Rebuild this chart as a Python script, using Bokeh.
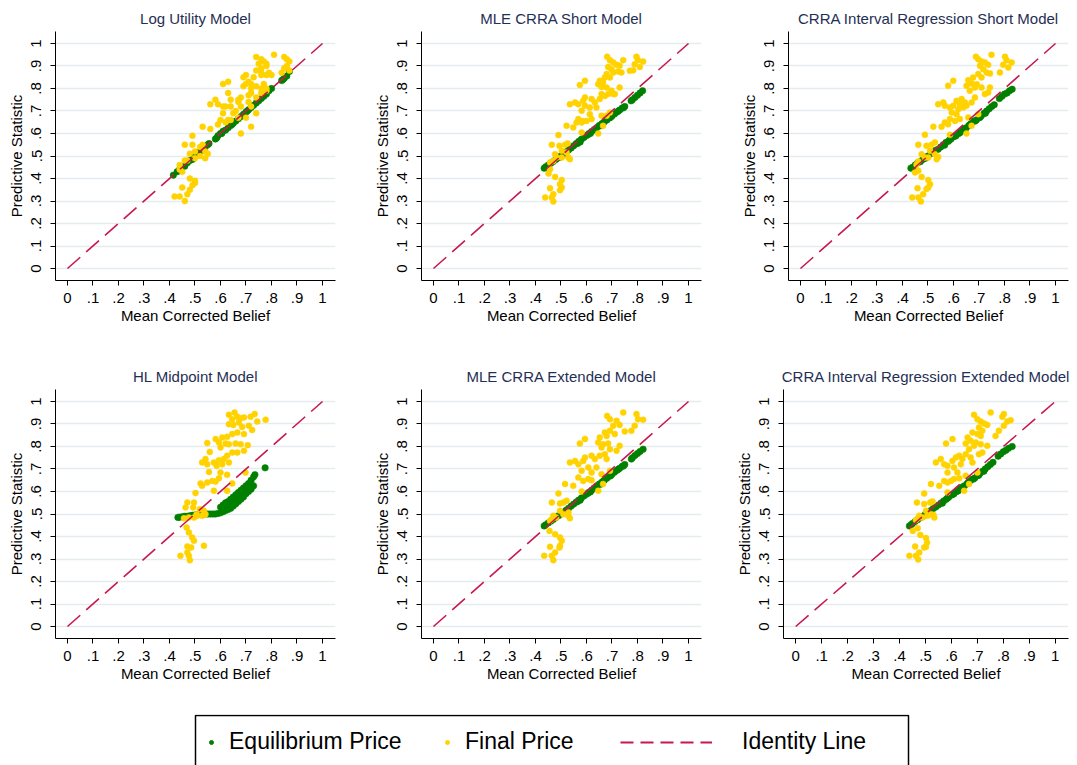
from bokeh.plotting import figure
from bokeh.layouts import column, row
from bokeh.models import Range1d, FixedTicker, Legend, LegendItem, BoxAnnotation
from bokeh.embed import file_html
from bokeh.resources import INLINE

# ---------------- data ----------------
TICKS = [0, 0.1, 0.2, 0.3, 0.4, 0.5, 0.6, 0.7, 0.8, 0.9, 1]
TICK_LABELS = ["0", ".1", ".2", ".3", ".4", ".5", ".6", ".7", ".8", ".9", "1"]
IDENTITY_X = [0, 1]
IDENTITY_Y = [0, 1]
X_LABEL = "Mean Corrected Belief"
Y_LABEL = "Predictive Statistic"
SERIES = ["Equilibrium Price", "Final Price", "Identity Line"]
TITLES = ["Log Utility Model", "MLE CRRA Short Model", "CRRA Interval Regression Short Model",
          "HL Midpoint Model", "MLE CRRA Extended Model", "CRRA Interval Regression Extended Model"]

# Log Utility Model
LOG_EQ = [(0.415,0.415),(0.43,0.43),(0.44,0.44),(0.45,0.45),(0.46,0.455),(0.47,0.47),(0.48,0.48),(0.49,0.485),
          (0.50,0.50),(0.505,0.505),(0.51,0.51),(0.52,0.52),(0.53,0.53),(0.54,0.54),(0.55,0.55),(0.555,0.555),
          (0.58,0.575),(0.585,0.58),(0.59,0.59),(0.60,0.60),(0.605,0.60),(0.61,0.61),(0.62,0.615),(0.63,0.625),
          (0.64,0.635),(0.645,0.64),(0.65,0.645),(0.66,0.655),(0.67,0.665),(0.68,0.675),(0.69,0.685),(0.70,0.695),
          (0.705,0.70),(0.71,0.705),(0.72,0.715),(0.73,0.725),(0.74,0.735),(0.75,0.745),(0.76,0.755),(0.77,0.765),
          (0.78,0.775),(0.79,0.79),(0.80,0.80),(0.84,0.835),(0.845,0.84),(0.85,0.845),(0.86,0.855),(0.87,0.875)]
LOG_FINAL = [(0.74,0.94),(0.76,0.93),(0.77,0.92),(0.75,0.91),(0.78,0.91),(0.78,0.90),(0.76,0.89),(0.74,0.88),
             (0.76,0.87),(0.79,0.87),(0.78,0.86),(0.73,0.85),(0.76,0.86),(0.80,0.86),(0.81,0.95),(0.85,0.94),
             (0.86,0.93),(0.87,0.92),(0.86,0.90),(0.85,0.89),(0.84,0.87),(0.87,0.88),(0.70,0.86),(0.70,0.82),
             (0.71,0.83),(0.72,0.82),(0.74,0.81),(0.76,0.80),(0.77,0.82),(0.78,0.80),(0.69,0.81),(0.72,0.80),
             (0.69,0.85),(0.61,0.82),(0.63,0.83),(0.63,0.78),(0.64,0.75),(0.67,0.75),(0.68,0.76),(0.71,0.77),
             (0.72,0.78),(0.74,0.76),(0.76,0.78),(0.78,0.79),(0.56,0.73),(0.58,0.75),(0.59,0.73),(0.61,0.72),
             (0.62,0.72),(0.64,0.72),(0.67,0.74),(0.68,0.72),(0.66,0.70),(0.65,0.69),(0.61,0.69),(0.60,0.66),
             (0.62,0.65),(0.63,0.66),(0.64,0.66),(0.67,0.67),(0.70,0.67),(0.71,0.74),(0.72,0.72),(0.74,0.69),
             (0.53,0.63),(0.56,0.62),(0.59,0.64),(0.68,0.60),(0.72,0.63),(0.49,0.59),(0.46,0.55),(0.49,0.55),
             (0.52,0.54),(0.53,0.55),(0.50,0.52),(0.54,0.52),(0.55,0.51),(0.52,0.50),(0.54,0.49),(0.48,0.51),
             (0.50,0.49),(0.46,0.48),(0.47,0.48),(0.44,0.46),(0.44,0.44),(0.45,0.43),(0.48,0.40),(0.50,0.39),
             (0.49,0.37),(0.50,0.38),(0.48,0.35),(0.47,0.33),(0.45,0.36),(0.42,0.32),(0.44,0.32),(0.46,0.30)]

# MLE CRRA Short Model
MLE_S_EQ = [(0.434,0.446),(0.44,0.452),(0.45,0.46),(0.46,0.468),(0.47,0.476),(0.48,0.485),(0.49,0.492),
            (0.50,0.50),(0.51,0.509),(0.52,0.518),(0.53,0.527),(0.54,0.536),(0.55,0.546),(0.56,0.555),
            (0.565,0.556),(0.57,0.565),(0.575,0.562),(0.58,0.574),(0.59,0.582),(0.60,0.591),(0.605,0.594),
            (0.61,0.60),(0.615,0.60),(0.62,0.609),(0.63,0.617),(0.635,0.62),(0.64,0.626),(0.65,0.635),
            (0.655,0.634),(0.66,0.643),(0.665,0.646),(0.67,0.652),(0.68,0.66),(0.69,0.669),(0.695,0.672),
            (0.70,0.678),(0.71,0.687),(0.72,0.695),(0.725,0.70),(0.73,0.704),(0.74,0.713),(0.745,0.714),
            (0.75,0.72),(0.775,0.745),(0.78,0.75),(0.79,0.76),(0.80,0.77),(0.81,0.78),(0.82,0.79)]
MLE_S_FINAL = [(0.681,0.941),(0.692,0.926),(0.705,0.916),(0.718,0.905),(0.73,0.901),(0.685,0.896),(0.698,0.886),
               (0.679,0.864),(0.705,0.871),(0.724,0.876),(0.737,0.871),(0.744,0.926),(0.672,0.849),(0.692,0.849),
               (0.652,0.834),(0.665,0.827),(0.646,0.819),(0.659,0.807),(0.679,0.804),(0.698,0.79),(0.711,0.775),
               (0.73,0.804),(0.783,0.881),(0.789,0.908),(0.796,0.941),(0.802,0.926),(0.822,0.92),(0.809,0.896),
               (0.77,0.879),(0.574,0.815),(0.594,0.834),(0.535,0.73),(0.555,0.738),(0.568,0.73),(0.587,0.745),
               (0.594,0.723),(0.613,0.716),(0.633,0.738),(0.652,0.753),(0.672,0.767),(0.685,0.775),(0.705,0.775),
               (0.594,0.76),(0.62,0.753),(0.659,0.775),(0.639,0.716),(0.581,0.701),(0.613,0.686),(0.587,0.656),
               (0.60,0.656),(0.62,0.664),(0.568,0.664),(0.561,0.649),(0.548,0.627),(0.522,0.634),(0.581,0.649),
               (0.659,0.679),(0.679,0.679),(0.692,0.693),(0.665,0.634),(0.581,0.604),(0.49,0.593),(0.646,0.60),
               (0.464,0.55),(0.494,0.545),(0.516,0.55),(0.526,0.556),(0.503,0.523),(0.522,0.516),(0.477,0.508),
               (0.483,0.493),(0.529,0.493),(0.535,0.486),(0.503,0.493),(0.457,0.471),(0.47,0.478),(0.457,0.441),
               (0.451,0.422),(0.477,0.407),(0.503,0.393),(0.496,0.375),(0.503,0.36),(0.457,0.357),(0.496,0.348),
               (0.47,0.33),(0.438,0.316),(0.464,0.316),(0.47,0.298)]

# CRRA Interval Regression Short Model
IR_S_EQ = [(0.433,0.446),(0.44,0.45),(0.45,0.46),(0.46,0.47),(0.47,0.475),(0.48,0.485),(0.49,0.49),
           (0.50,0.50),(0.51,0.51),(0.52,0.515),(0.53,0.525),(0.54,0.53),(0.55,0.54),(0.56,0.55),(0.565,0.548),
           (0.57,0.56),(0.58,0.565),(0.585,0.572),(0.59,0.575),(0.60,0.585),(0.605,0.588),(0.61,0.59),
           (0.62,0.60),(0.625,0.603),(0.63,0.61),(0.64,0.62),(0.645,0.618),(0.65,0.625),(0.66,0.635),
           (0.665,0.64),(0.67,0.645),(0.68,0.655),(0.685,0.655),(0.69,0.66),(0.70,0.67),(0.705,0.672),
           (0.71,0.68),(0.72,0.69),(0.725,0.69),(0.73,0.70),(0.74,0.71),(0.75,0.72),(0.76,0.728),
           (0.78,0.755),(0.79,0.765),(0.80,0.775),(0.81,0.78),(0.82,0.79),(0.83,0.797)]
IR_S_FINAL = [(0.688,0.941),(0.697,0.93),(0.71,0.92),(0.723,0.916),(0.736,0.905),(0.704,0.901),(0.717,0.886),
              (0.73,0.871),(0.743,0.867),(0.697,0.864),(0.677,0.849),(0.71,0.849),(0.658,0.837),(0.671,0.822),
              (0.691,0.819),(0.651,0.812),(0.684,0.804),(0.71,0.804),(0.664,0.79),(0.723,0.775),(0.736,0.782),
              (0.749,0.95),(0.802,0.941),(0.808,0.926),(0.828,0.916),(0.795,0.905),(0.815,0.893),(0.782,0.871),
              (0.743,0.804),(0.599,0.834),(0.579,0.812),(0.54,0.73),(0.56,0.738),(0.566,0.723),(0.586,0.716),
              (0.599,0.723),(0.612,0.745),(0.632,0.753),(0.625,0.73),(0.645,0.738),(0.651,0.723),(0.671,0.738),
              (0.684,0.76),(0.638,0.716),(0.619,0.708),(0.593,0.693),(0.612,0.686),(0.586,0.664),(0.566,0.649),
              (0.606,0.656),(0.625,0.664),(0.553,0.63),(0.521,0.63),(0.579,0.641),(0.658,0.671),(0.671,0.634),
              (0.697,0.686),(0.651,0.60),(0.586,0.594),(0.488,0.594),(0.462,0.55),(0.494,0.545),(0.514,0.55),
              (0.527,0.56),(0.508,0.523),(0.527,0.508),(0.475,0.508),(0.488,0.493),(0.534,0.486),(0.54,0.496),
              (0.501,0.493),(0.455,0.461),(0.462,0.476),(0.449,0.427),(0.462,0.434),(0.475,0.407),(0.501,0.393),
              (0.508,0.375),(0.501,0.36),(0.459,0.357),(0.494,0.353),(0.481,0.33),(0.438,0.316),(0.462,0.316),
              (0.472,0.298)]

# HL Midpoint Model
HL_EQ = [(0.433,0.485),(0.44,0.486),(0.45,0.488),(0.46,0.49),(0.47,0.49),(0.48,0.492),(0.49,0.494),
         (0.50,0.496),(0.51,0.498),(0.52,0.50),(0.53,0.50),(0.54,0.50),(0.55,0.50),(0.56,0.50),(0.57,0.50),
         (0.58,0.50),(0.59,0.502),(0.60,0.505),(0.60,0.53),(0.61,0.51),(0.61,0.54),(0.62,0.515),(0.62,0.53),
         (0.62,0.55),(0.63,0.52),(0.63,0.555),(0.64,0.525),(0.64,0.545),(0.64,0.565),(0.65,0.535),(0.65,0.575),
         (0.66,0.545),(0.66,0.565),(0.66,0.585),(0.67,0.555),(0.67,0.595),(0.68,0.565),(0.68,0.585),(0.68,0.605),
         (0.69,0.575),(0.69,0.615),(0.70,0.59),(0.70,0.607),(0.70,0.625),(0.71,0.60),(0.71,0.635),(0.72,0.61),
         (0.72,0.63),(0.72,0.65),(0.73,0.625),(0.73,0.665),(0.735,0.675),(0.775,0.705)]
HL_FINAL = [(0.655,0.951),(0.633,0.941),(0.666,0.932),(0.646,0.921),(0.679,0.926),(0.692,0.929),(0.718,0.932),
            (0.734,0.944),(0.744,0.911),(0.777,0.919),(0.633,0.899),(0.65,0.896),(0.672,0.907),(0.685,0.887),
            (0.711,0.892),(0.724,0.873),(0.692,0.855),(0.666,0.862),(0.646,0.855),(0.626,0.843),(0.607,0.84),
            (0.581,0.833),(0.594,0.818),(0.548,0.815),(0.62,0.813),(0.633,0.81),(0.659,0.813),(0.679,0.81),
            (0.707,0.806),(0.60,0.796),(0.558,0.776),(0.646,0.773),(0.666,0.773),(0.692,0.781),(0.626,0.759),
            (0.613,0.744),(0.594,0.739),(0.574,0.729),(0.541,0.744),(0.528,0.729),(0.548,0.721),(0.633,0.729),
            (0.607,0.721),(0.585,0.714),(0.555,0.687),(0.60,0.684),(0.626,0.674),(0.568,0.647),(0.594,0.659),
            (0.646,0.636),(0.522,0.636),(0.548,0.64),(0.528,0.625),(0.581,0.644),(0.698,0.684),(0.574,0.603),
            (0.626,0.603),(0.502,0.593),(0.47,0.551),(0.496,0.551),(0.463,0.529),(0.493,0.529),(0.519,0.521),
            (0.535,0.514),(0.506,0.499),(0.528,0.492),(0.541,0.499),(0.457,0.481),(0.476,0.484),(0.509,0.492),
            (0.496,0.484),(0.467,0.44),(0.476,0.418),(0.489,0.396),(0.496,0.381),(0.485,0.351),(0.47,0.356),
            (0.535,0.359),(0.47,0.329),(0.443,0.314),(0.476,0.314),(0.48,0.295)]

# MLE CRRA Extended Model
MLE_E_EQ = [(0.434,0.447),(0.44,0.452),(0.45,0.46),(0.46,0.468),(0.47,0.476),(0.48,0.484),(0.49,0.492),
            (0.50,0.50),(0.51,0.508),(0.52,0.517),(0.53,0.526),(0.54,0.535),(0.55,0.544),(0.56,0.553),
            (0.565,0.555),(0.57,0.562),(0.575,0.561),(0.58,0.571),(0.59,0.58),(0.60,0.588),(0.605,0.592),
            (0.61,0.597),(0.615,0.598),(0.62,0.606),(0.63,0.615),(0.635,0.618),(0.64,0.624),(0.65,0.633),
            (0.655,0.632),(0.66,0.641),(0.665,0.645),(0.67,0.65),(0.68,0.659),(0.69,0.668),(0.695,0.67),
            (0.70,0.677),(0.71,0.686),(0.72,0.694),(0.725,0.699),(0.73,0.703),(0.74,0.712),(0.745,0.713),
            (0.75,0.72),(0.776,0.744),(0.78,0.75),(0.79,0.76),(0.80,0.769),(0.81,0.778),(0.822,0.788)]
MLE_E_FINAL = [(0.681,0.936),(0.744,0.951),(0.692,0.921),(0.718,0.914),(0.705,0.892),(0.73,0.896),(0.692,0.87),
               (0.711,0.855),(0.75,0.867),(0.672,0.862),(0.652,0.84),(0.679,0.847),(0.646,0.818),(0.665,0.81),
               (0.685,0.813),(0.659,0.796),(0.692,0.788),(0.718,0.781),(0.73,0.803),(0.796,0.944),(0.789,0.892),
               (0.802,0.921),(0.822,0.919),(0.776,0.87),(0.594,0.833),(0.574,0.813),(0.535,0.729),(0.555,0.736),
               (0.568,0.721),(0.587,0.736),(0.594,0.751),(0.62,0.759),(0.633,0.744),(0.652,0.759),(0.672,0.766),
               (0.679,0.744),(0.607,0.707),(0.581,0.692),(0.62,0.684),(0.639,0.707),(0.568,0.662),(0.587,0.647),
               (0.607,0.655),(0.62,0.65),(0.548,0.625),(0.516,0.633),(0.659,0.677),(0.692,0.692),(0.665,0.633),
               (0.646,0.603),(0.581,0.60),(0.49,0.591),(0.464,0.551),(0.496,0.547),(0.509,0.551),(0.522,0.559),
               (0.496,0.514),(0.529,0.507),(0.47,0.492),(0.481,0.484),(0.529,0.492),(0.535,0.481),(0.509,0.499),
               (0.457,0.47),(0.464,0.477),(0.455,0.425),(0.477,0.41),(0.496,0.396),(0.503,0.381),(0.496,0.359),
               (0.457,0.354),(0.494,0.351),(0.477,0.329),(0.434,0.314),(0.464,0.314),(0.47,0.295)]

# CRRA Interval Regression Extended Model
IR_E_EQ = [(0.438,0.447),(0.445,0.452),(0.45,0.458),(0.46,0.467),(0.47,0.475),(0.48,0.484),(0.49,0.49),
           (0.50,0.50),(0.51,0.508),(0.52,0.515),(0.53,0.524),(0.54,0.531),(0.55,0.54),(0.56,0.549),
           (0.565,0.548),(0.57,0.558),(0.58,0.565),(0.585,0.571),(0.59,0.575),(0.60,0.584),(0.605,0.587),
           (0.61,0.59),(0.62,0.60),(0.625,0.602),(0.63,0.61),(0.64,0.619),(0.645,0.618),(0.65,0.625),
           (0.66,0.634),(0.665,0.64),(0.67,0.645),(0.68,0.654),(0.685,0.655),(0.69,0.66),(0.70,0.67),
           (0.705,0.672),(0.71,0.68),(0.72,0.69),(0.725,0.69),(0.73,0.70),(0.74,0.71),(0.75,0.72),(0.76,0.73),
           (0.78,0.757),(0.79,0.767),(0.80,0.777),(0.81,0.783),(0.82,0.792),(0.834,0.80)]
IR_E_FINAL = [(0.687,0.941),(0.751,0.951),(0.70,0.921),(0.713,0.911),(0.726,0.902),(0.738,0.896),(0.706,0.884),
              (0.719,0.87),(0.681,0.862),(0.70,0.855),(0.713,0.847),(0.662,0.84),(0.674,0.825),(0.694,0.818),
              (0.655,0.813),(0.687,0.803),(0.713,0.81),(0.738,0.803),(0.668,0.788),(0.719,0.773),(0.706,0.766),
              (0.802,0.944),(0.796,0.932),(0.815,0.911),(0.828,0.917),(0.802,0.892),(0.783,0.87),(0.77,0.847),
              (0.604,0.833),(0.579,0.813),(0.54,0.729),(0.559,0.744),(0.572,0.721),(0.585,0.714),(0.604,0.736),
              (0.617,0.751),(0.63,0.759),(0.642,0.744),(0.655,0.766),(0.674,0.751),(0.681,0.729),(0.636,0.721),
              (0.61,0.707),(0.585,0.684),(0.623,0.684),(0.598,0.647),(0.572,0.647),(0.61,0.655),(0.63,0.659),
              (0.553,0.625),(0.521,0.633),(0.585,0.64),(0.655,0.67),(0.70,0.684),(0.668,0.633),(0.649,0.603),
              (0.585,0.596),(0.495,0.591),(0.467,0.551),(0.495,0.544),(0.518,0.551),(0.527,0.556),(0.502,0.514),
              (0.521,0.499),(0.476,0.492),(0.489,0.484),(0.534,0.484),(0.531,0.496),(0.508,0.492),(0.463,0.473),
              (0.472,0.481),(0.451,0.425),(0.47,0.437),(0.48,0.407),(0.502,0.393),(0.506,0.373),(0.495,0.351),
              (0.46,0.356),(0.502,0.354),(0.476,0.329),(0.438,0.314),(0.463,0.314),(0.472,0.298)]

PANELS = [(TITLES[0], LOG_EQ, LOG_FINAL), (TITLES[1], MLE_S_EQ, MLE_S_FINAL), (TITLES[2], IR_S_EQ, IR_S_FINAL),
          (TITLES[3], HL_EQ, HL_FINAL), (TITLES[4], MLE_E_EQ, MLE_E_FINAL), (TITLES[5], IR_E_EQ, IR_E_FINAL)]

# ---------------- style ----------------
FONT = "Liberation Sans"
GREEN = "#008000"
GOLD = "#ffd200"
RED = "#c8194f"
TITLE_COLOR = "#1f2f55"
GRID_COLOR = "#e4ecef"
DASH = "17 8"
FRAME_TOP = 31
FRAME_H = 249


def make_panel(title, eq, fin, width, height, left, frame_w):
    p = figure(width=width, height=height,
               x_range=Range1d(-0.047, 1.051), y_range=Range1d(-0.0533, 1.0533),
               output_backend="svg", toolbar_location=None,
               min_border_left=left, min_border_right=width - left - frame_w,
               min_border_top=FRAME_TOP, min_border_bottom=height - FRAME_TOP - FRAME_H)
    p.outline_line_color = None
    p.background_fill_color = "white"
    p.border_fill_color = "white"
    p.title.text = title
    p.title.align = "center"
    p.title.text_font = FONT
    p.title.text_font_size = "15px"
    p.title.text_font_style = "normal"
    p.title.text_color = TITLE_COLOR
    p.title.standoff = 9

    for ax in (p.xaxis[0], p.yaxis[0]):
        ax.ticker = FixedTicker(ticks=TICKS)
        ax.major_label_overrides = dict(zip(TICKS, TICK_LABELS))
        ax.axis_line_color = "black"
        ax.axis_line_width = 1
        ax.major_tick_line_color = "black"
        ax.major_tick_out = 5
        ax.major_tick_in = 0
        ax.minor_tick_line_color = None
        ax.major_label_text_font = FONT
        ax.major_label_text_font_size = "15px"
        ax.major_label_text_color = "black"
        ax.axis_label_text_font = FONT
        ax.axis_label_text_font_size = "15px"
        ax.axis_label_text_font_style = "normal"
        ax.axis_label_text_color = "black"
    p.xaxis.axis_label = X_LABEL
    p.yaxis.axis_label = Y_LABEL
    p.xaxis.major_label_standoff = 7
    p.xaxis.axis_label_standoff = 1
    p.yaxis.major_label_standoff = 9
    p.yaxis.axis_label_standoff = 4
    p.yaxis.major_label_orientation = "vertical"

    p.xgrid.visible = False
    p.ygrid.ticker = FixedTicker(ticks=TICKS)
    p.ygrid.grid_line_color = GRID_COLOR
    p.ygrid.grid_line_width = 1.5

    p.scatter([a for a, b in eq], [b for a, b in eq], size=6.5, fill_color=GREEN, line_color=GREEN, line_width=0.5)
    p.scatter([a for a, b in fin], [b for a, b in fin], size=6, fill_color=GOLD, line_color=GOLD, line_width=0.5)
    p.line(IDENTITY_X, IDENTITY_Y, line_color=RED, line_width=1.6, line_dash=DASH)
    return p


# (width, left border, frame width) for each panel
geom = [(366, 55, 280), (366, 55, 280), (345, 56, 280),
        (366, 55, 280), (366, 55, 280), (345, 50, 286)]
figs = []
for i, (t, eq, fin) in enumerate(PANELS):
    w, l, fw = geom[i]
    h = 358 if i < 3 else 356
    figs.append(make_panel(t, eq, fin, w, h, l, fw))

# legend strip (pixel-unit ranges)
LEG_H = 51
lg = figure(width=1077, height=LEG_H, x_range=Range1d(0, 1077), y_range=Range1d(0, LEG_H),
            output_backend="svg", toolbar_location=None, x_axis_type=None, y_axis_type=None,
            min_border=0, title=None)
lg.outline_line_color = None
lg.grid.visible = False
# legend keys need one (off-screen) point to be drawn
r1 = lg.scatter([-50], [-50], size=5, fill_color=GREEN, line_color=GREEN)
r2 = lg.scatter([-50], [-50], size=5, fill_color=GOLD, line_color=GOLD)
r3 = lg.line([-60, -50], [-50, -50], line_color=RED, line_width=2.2, line_dash="13 7")
lg.add_layout(BoxAnnotation(left=195, right=908, top=LEG_H - 1, bottom=-30, fill_alpha=0,
                            line_color="black", line_width=1.5, line_alpha=1))

for rend, label, x0, gw, so in [(r1, SERIES[0], 206, 10, 13), (r2, SERIES[1], 442, 10, 13),
                                (r3, SERIES[2], 620, 92, 30)]:
    leg = Legend(items=[LegendItem(label=label, renderers=[rend])], location=(x0, 10),
                 orientation="horizontal", padding=0, margin=0, spacing=0,
                 glyph_width=gw, glyph_height=26, label_height=26, label_standoff=so,
                 label_text_font=FONT, label_text_font_size="23px", label_text_color="black",
                 border_line_color=None, background_fill_alpha=0)
    lg.add_layout(leg)

layout = column(row(figs[0], figs[1], figs[2]), row(figs[3], figs[4], figs[5]), lg)
open("out.html", "w").write(file_html(layout, INLINE))
